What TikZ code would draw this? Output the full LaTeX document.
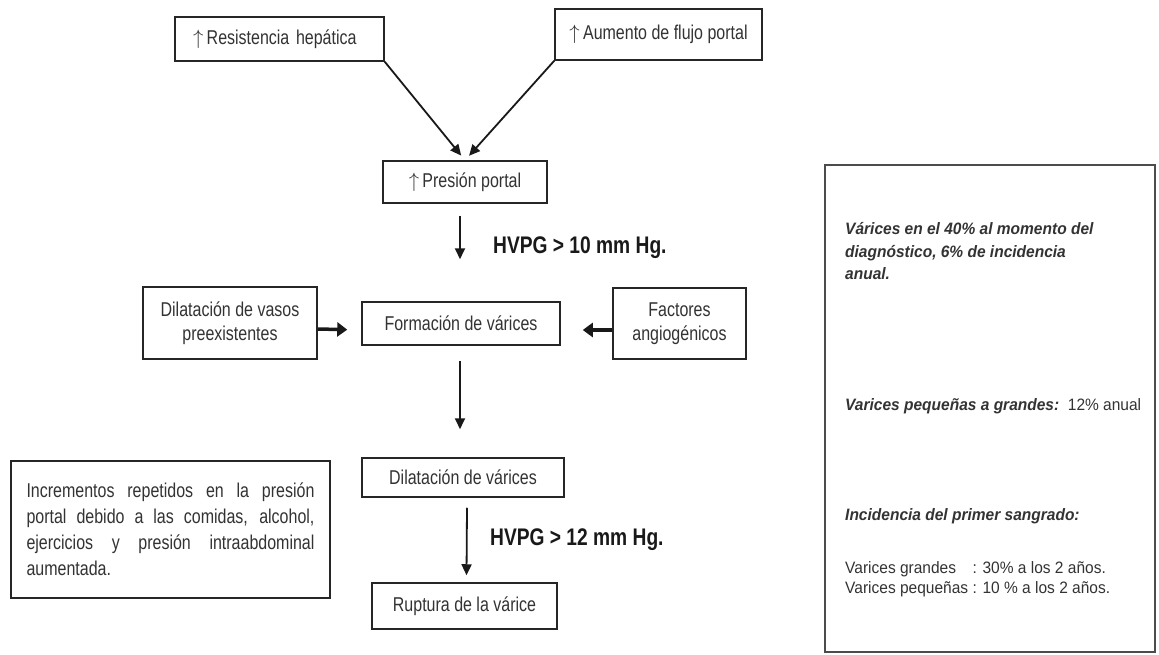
\documentclass[tikz,border=0pt]{standalone}
\usepackage{fontspec}
\usepackage{calc}
\setmainfont{Liberation Sans}
\newfontfamily\nfont{Liberation Sans}[FakeStretch=0.8]
\newfontfamily\rfont{Liberation Sans}[FakeStretch=0.94]
\usetikzlibrary{arrows.meta}
\begin{document}
\begin{tikzpicture}[x=1pt,y=-1pt,
  box/.style={draw=black!85, line width=1.5pt, inner sep=0pt, align=center,
    font=\nfont\fontsize{20}{24}\selectfont, text=black!80},
  arr/.style={draw=black!90, line width=1.8pt, -{Triangle[length=11pt,width=10pt]}},
  harr/.style={draw=black!90, line width=3.5pt, -{Triangle[length=10pt,width=14pt]}},
  lab/.style={font=\nfont\bfseries\fontsize{24}{26}\selectfont, anchor=base west, inner sep=0pt, text=black!90},
  rbt/.style={font=\rfont\fontsize{16.5}{18}\selectfont, anchor=base west, inner sep=0pt, text=black!80},
  rbb/.style={rbt, font=\rfont\bfseries\itshape\fontsize{16.5}{18}\selectfont}]
\useasboundingbox (0,0) rectangle (1159,655);
\fill[white] (0,0) rectangle (1159,655);

% top boxes
\node[box, minimum width=209pt, minimum height=44pt, text width=173pt, align=left] (res) at (279.5,39) {\(\uparrow\)\,Resistencia hepática};
\node[box, minimum width=207pt, minimum height=51pt] (aum) at (658.5,34.5) {\(\uparrow\)\,Aumento de flujo portal};
\node[box, minimum width=164pt, minimum height=42pt] (pres) at (465,182) {\(\uparrow\)\,Presión portal};

% middle row
\node[box, minimum width=198pt, minimum height=43pt] (form) at (461,323.5) {Formación de várices};
\node[box, minimum width=174pt, minimum height=72pt] (vasos) at (230,323) {Dilatación de vasos\\preexistentes};
\node[box, minimum width=133pt, minimum height=71pt] (fact) at (679.5,323.5) {Factores\\angiogénicos};

% lower
\node[box, minimum width=202pt, minimum height=39pt] (dilv) at (463,477.5) {Dilatación de várices};
\node[box, minimum width=185pt, minimum height=46pt] (rupt) at (464.5,606) {Ruptura de la várice};
\node[box, minimum width=319pt, minimum height=137pt, align=left, font=\nfont\fontsize{20}{26}\selectfont] (incr) at (170.5,529.5)
  {\makebox[288pt][s]{Incrementos repetidos en la presión}\\
   \makebox[288pt][s]{portal debido a las comidas, alcohol,}\\
   \makebox[288pt][s]{ejercicios y presión intraabdominal}\\
   aumentada.};

% connectors
\draw[arr, shorten >=6pt] (res.south east) -- (pres.north);
\draw[arr, shorten >=6pt] (aum.south west) -- (pres.north);
\draw[arr] ([xshift=-5pt,yshift=-12pt]pres.south) -- ([xshift=-1pt,yshift=42pt]form.north);
\draw[arr] ([xshift=-1pt,yshift=-15pt]form.south) -- ([xshift=-3pt,yshift=28pt]dilv.north);
\draw[arr] ([xshift=4pt,yshift=-10pt]dilv.south) -- ([xshift=2pt,yshift=7pt]rupt.north);
\draw[harr, shorten >=14pt] ([yshift=-6pt]vasos.east) -- ([yshift=-6.5pt]form.west);
\draw[harr, shorten >=22pt] ([yshift=-6.5pt]fact.west) -- ([yshift=-6.5pt]form.east);

% labels
\node[lab] (h10) at (493,253) {HVPG > 10 mm Hg.};
\node[lab] (h12) at (490,545) {HVPG > 12 mm Hg.};

% right box
\node[draw=black!70, line width=1.2pt, minimum width=330pt, minimum height=487pt, inner sep=0pt] (rb) at (990,408.5) {};
\node[rbb] (r1) at (845,234) {Várices en el 40\% al momento del};
\node[rbb] (r2) at (845,257) {diagnóstico, 6\% de incidencia};
\node[rbb] (r3) at (845,279) {anual.};
\node[rbt] (r4) at (845,410) {\textbf{\textit{Varices pequeñas a grandes:}}\ \ 12\% anual};
\node[rbb] (r5) at (845,520) {Incidencia del primer sangrado:};
\node[rbt] (r6) at (845,573) {\makebox[\widthof{Varices pequeñas }][l]{Varices grandes}: 30\% a los 2 años.};
\node[rbt] (r7) at (845,593) {Varices pequeñas : 10 \% a los 2 años.};
\end{tikzpicture}
\end{document}
